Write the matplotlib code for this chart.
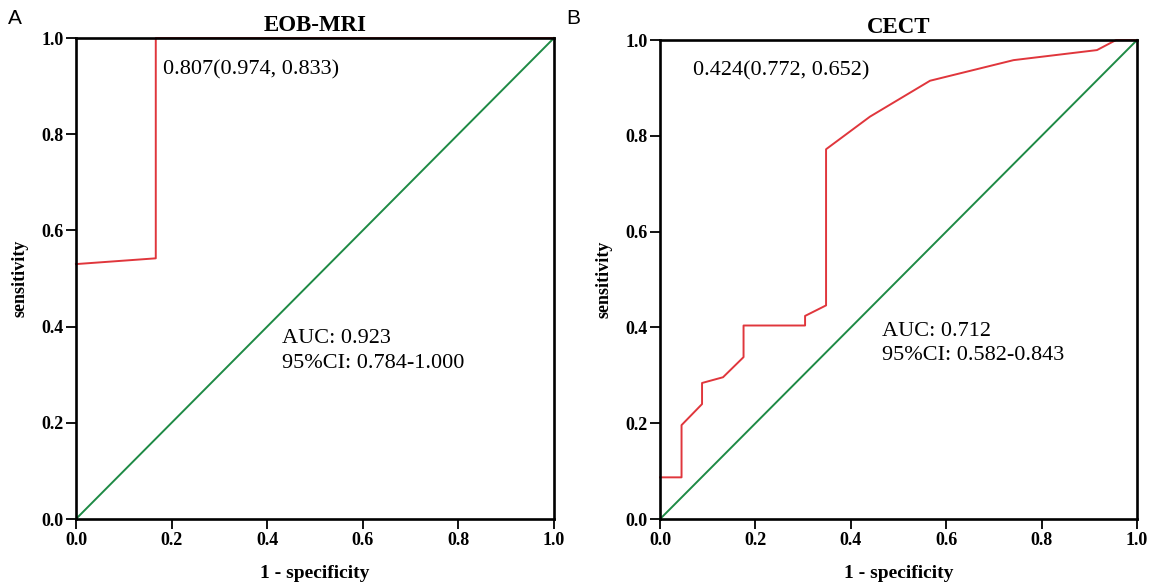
import matplotlib.pyplot as plt

# ROC curve points (1 - specificity, sensitivity)
mri_fpr = [0.0, 0.167, 0.167, 1.0]
mri_tpr = [0.53, 0.542, 1.0, 1.0]

ct_fpr = [0.0, 0.045, 0.045, 0.088, 0.088, 0.132, 0.175, 0.175, 0.304, 0.304,
          0.348, 0.348, 0.44, 0.566, 0.741, 0.916, 0.956, 1.0]
ct_tpr = [0.087, 0.087, 0.196, 0.24, 0.284, 0.296, 0.338, 0.404, 0.404, 0.424,
          0.446, 0.772, 0.84, 0.915, 0.958, 0.979, 1.0, 1.0]

ticks = [0.0, 0.2, 0.4, 0.6, 0.8, 1.0]

RED = '#e0363c'
GREEN = '#1e8a45'
SERIF = 'Liberation Serif'


def draw_roc(ax, fpr, tpr, title, cut_text, cut_pos, auc_lines, auc_pos):
    ax.plot([0, 1], [0, 1], color=GREEN, lw=1.4, clip_on=False)
    ax.plot(fpr, tpr, color=RED, lw=1.4, clip_on=False)
    ax.set_xlim(0, 1)
    ax.set_ylim(0, 1)
    ax.set_xticks(ticks)
    ax.set_yticks(ticks)
    labels = [f'{t:.1f}' for t in ticks]
    ax.set_xticklabels(labels, fontfamily=SERIF, fontweight='bold', fontsize=13)
    ax.set_yticklabels(labels, fontfamily=SERIF, fontweight='bold', fontsize=13)
    ax.tick_params(direction='out', length=7, width=1.3, pad=2)
    for s in ax.spines.values():
        s.set_linewidth(1.9)
    ax.set_title(title, fontfamily=SERIF, fontweight='bold', fontsize=16.5, pad=5)
    ax.set_xlabel('1 - specificity', fontfamily=SERIF, fontweight='bold', fontsize=14, labelpad=12)
    ax.set_ylabel('sensitivity', fontfamily=SERIF, fontweight='bold', fontsize=13, labelpad=9)
    ax.text(cut_pos[0], cut_pos[1], cut_text, fontfamily=SERIF, fontsize=16,
            va='center', ha='left', transform=ax.transAxes)
    for i, line in enumerate(auc_lines):
        ax.text(auc_pos[0], auc_pos[1] - i * 0.052, line, fontfamily=SERIF, fontsize=16,
                va='baseline', ha='left', transform=ax.transAxes)


fig = plt.figure(figsize=(11.56, 5.86), dpi=100)
ax1 = fig.add_axes([0.0657, 0.1143, 0.4135, 0.8208])
ax2 = fig.add_axes([0.571, 0.1143, 0.4126, 0.8174])

draw_roc(ax1, mri_fpr, mri_tpr, 'EOB-MRI', '0.807(0.974, 0.833)', (0.182, 0.933),
         ['AUC: 0.923', '95%CI: 0.784-1.000'], (0.431, 0.365))
draw_roc(ax2, ct_fpr, ct_tpr, 'CECT', '0.424(0.772, 0.652)', (0.069, 0.935),
         ['AUC: 0.712', '95%CI: 0.582-0.843'], (0.465, 0.383))

fig.text(0.007, 0.968, 'A', fontfamily='Liberation Sans', fontsize=15, va='center')
fig.text(0.490, 0.968, 'B', fontfamily='Liberation Sans', fontsize=15, va='center')

fig.savefig('out.png', dpi=100)
